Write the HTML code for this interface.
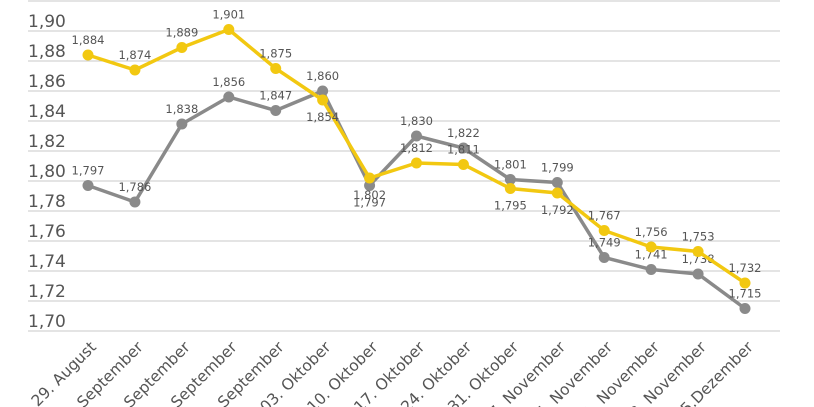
<!DOCTYPE html>
<html><head><meta charset="utf-8"><style>
html,body{margin:0;background:#fff;width:814px;height:407px;overflow:hidden}
svg{display:block;overflow:hidden;font-family:"DejaVu Sans","Liberation Sans",sans-serif}
</style></head><body>
<svg id="chart" width="814" height="407" viewBox="0 0 814 407"></svg>
<script>
const categories=["29. August","05. September","12. September","19. September","26. September","03. Oktober","10. Oktober","17. Oktober","24. Oktober","31. Oktober","07. November","14. November","21. November","28. November","05.Dezember"];
const yellowValues=[1.884,1.874,1.889,1.901,1.875,1.854,1.802,1.812,1.811,1.795,1.792,1.767,1.756,1.753,1.732];
const grayValues=[1.797,1.786,1.838,1.856,1.847,1.860,1.797,1.830,1.822,1.801,1.799,1.749,1.741,1.738,1.715];
const yellowLabelDir=[-1,-1,-1,-1,-1,1,1,-1,-1,1,1,-1,-1,-1,-1];
const grayLabelDir=[-1,-1,-1,-1,-1,-1,1,-1,-1,-1,-1,-1,-1,-1,-1];
const yTicks=[1.70,1.72,1.74,1.76,1.78,1.80,1.82,1.84,1.86,1.88,1.90,1.92];
const ns="http://www.w3.org/2000/svg";
const svg=document.getElementById('chart');
const y=v=>331-(v-1.70)*1500;
const x=i=>88+i*(745-88)/(categories.length-1);
function mk(t,a,p){const e=document.createElementNS(ns,t);for(const k in a)e.setAttribute(k,a[k]);(p||svg).appendChild(e);return e;}
yTicks.forEach(v=>{
  const l=mk('line',{x1:28,x2:780,y1:y(v),y2:y(v),stroke:'#c8c8c8','stroke-width':1});
  
  
  if(v<1.91){
    const t=mk('text',{x:28,y:y(v)-4,'font-size':17,fill:'#555'});
    t.textContent=v.toFixed(2).replace('.',',');
    
    
  }
});
categories.forEach((c,i)=>{
  const t=mk('text',{x:0,y:0,'font-size':15.5,fill:'#555','text-anchor':'end',transform:`translate(${x(i)+9},${348}) rotate(-45)`});
  t.textContent=c;
  
  
});
function series(vals,dirs,color,name){
  const p=mk('polyline',{points:vals.map((v,i)=>x(i)+','+y(v)).join(' '),fill:'none',stroke:color,'stroke-width':3.5});
  
  
  vals.forEach((v,i)=>{
    const c=mk('circle',{cx:x(i),cy:y(v),r:5.5,fill:color});
    
    
    const t=mk('text',{x:x(i),y:y(v)+(dirs[i]<0?-11:21),'font-size':11.5,fill:'#555','text-anchor':'middle'});
    t.textContent=v.toFixed(3).replace('.',',');
    
    
  });
}
series(grayValues,grayLabelDir,'#8a8a8a','gray-series');
series(yellowValues,yellowLabelDir,'#f2c811','yellow-series');
</script>
</body></html>
